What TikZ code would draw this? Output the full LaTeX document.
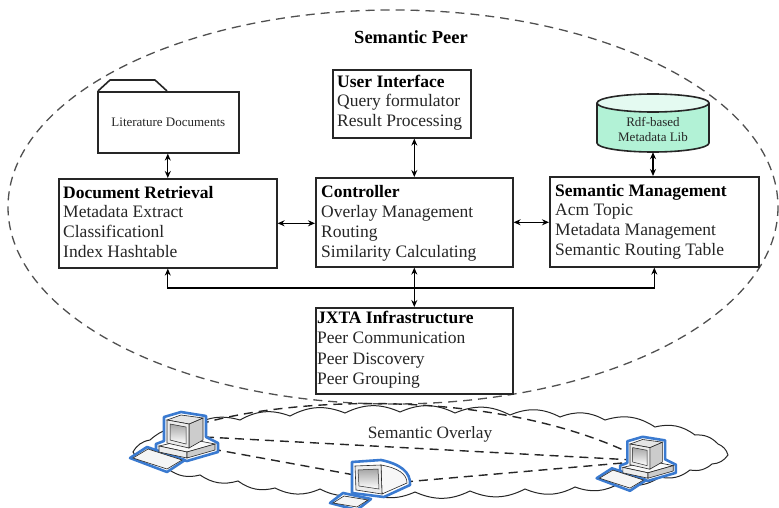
\documentclass[tikz,border=0pt]{standalone}
\usepackage{fontspec}
\setmainfont{Liberation Serif}
\usetikzlibrary{arrows.meta}
\definecolor{pcblue}{HTML}{3A7AD0}
\definecolor{mint}{HTML}{B2F2D6}
\definecolor{ink}{HTML}{262626}
\definecolor{dashgray}{HTML}{505050}

\tikzset{
  pics/desk/.style={code={
    % blue halo around monitor and case
    \draw[pcblue, line width=2.6pt, line join=round, fill=white]
      (-3,-3) -- (14,-8) -- (39,-4) -- (39,17) -- (51,23) -- (51,32) -- (20,41)
      -- (-11,34) -- (-11,24) -- (-3,21) -- cycle;
    % blue halo around keyboard
    \draw[pcblue, line width=2.6pt, line join=round, fill=white]
      (-37,38) -- (-20,27) -- (18,40) -- (0,52) -- cycle;
    % keyboard
    \draw[ink, line width=0.6pt, fill=gray!8] (-34,38) -- (-19,29) -- (15,40) -- (0,49) -- cycle;
    % desktop case
    \draw[ink, line width=0.6pt, fill=gray!5] (-8,26) -- (22,19) -- (48,24) -- (20,32) -- cycle;
    \draw[ink, line width=0.6pt, fill=gray!15] (-8,26) -- (20,32) -- (20,38) -- (-8,32) -- cycle;
    \draw[ink, line width=0.6pt, fill=gray!40] (20,32) -- (48,24) -- (48,30) -- (20,38) -- cycle;
    % monitor
    \draw[ink, line width=0.6pt, fill=gray!40] (22,4) -- (36,-2) -- (36,20) -- (22,28) -- cycle;
    \draw[ink, line width=0.6pt, fill=gray!20] (0,0) -- (14,-5) -- (36,-2) -- (22,4) -- cycle;
    \draw[ink, line width=0.6pt, fill=gray!15] (0,0) -- (22,4) -- (22,28) -- (0,23) -- cycle;
    \draw[ink, line width=0.5pt, top color=gray!70, bottom color=white] (3,4) -- (19,7) -- (19,24) -- (3,20) -- cycle;
  }}
}

\begin{document}
\begin{tikzpicture}[x=1pt, y=-1pt,
  box/.style={draw=ink, line width=1.6pt, fill=white, inner sep=0pt, anchor=north west},
  ln/.style={anchor=base west, inner sep=0pt, font=\fontsize{17.5}{19.7}\selectfont, text=ink},
  hd/.style={anchor=base west, inner sep=0pt, font=\fontsize{17.5}{19.7}\selectfont\bfseries, text=black},
  tip/.style={Stealth[length=7pt, width=6pt]},
  dbl/.style={{Stealth[length=7pt, width=6pt]}-{Stealth[length=7pt, width=6pt]}, line width=1.2pt, draw=black},
  peerline/.style={dash pattern=on 9pt off 6pt, line width=1.3pt, draw=dashgray},
  link/.style={dash pattern=on 9pt off 6pt, line width=1.4pt, draw=ink},
  small/.style={font=\fontsize{13}{15}\selectfont, text=ink, inner sep=0pt}]

\useasboundingbox (0,0) rectangle (779,508);

% ---------- semantic peer boundary ----------
\draw[peerline] (393,207) ellipse [x radius=385, y radius=197];
\node[anchor=base, inner sep=0pt, font=\fontsize{18.5}{20}\selectfont\bfseries] (peer) at (411,44) {Semantic Peer};

% ---------- overlay cloud ----------
\draw[ink, line width=1pt, fill=white, bend left=25]
  (150,440) to (190,428) to (240,420) to (290,416) to (345,413) to (400,412)
  to (455,413) to (510,415) to (560,417) to (605,420) to (655,427) to (695,435)
  to (718,444) to (728,455) to (712,464) to (690,470) to (660,477) to (620,483)
  to (575,487) to (525,489) to (470,491) to (415,492) to (365,491) to (320,489)
  to (275,488) to (238,481) to (200,475) to (168,469) to (145,461) to (133,452)
  to (150,440);
\node[anchor=base, inner sep=0pt, font=\fontsize{17.3}{19}\selectfont, text=ink] (overlay) at (430,438) {Semantic Overlay};

% peer-to-peer links
\coordinate (L1) at (200,424);
\coordinate (L2) at (205,437);
\coordinate (L3) at (212,449);
\coordinate (R1) at (634,455);
\coordinate (R2) at (634,460);
\coordinate (R3) at (634,462);
\coordinate (M1) at (360,476);
\coordinate (M2) at (404,482);
\draw[link] (L1) .. controls (300,395) and (500,390) .. (R1);
\draw[link] (L2) -- (R2);
\draw[link] (L3) -- (M1);
\draw[link] (M2) -- (R3);

% ---------- peers ----------
\pic (pcL) at (167,420) {desk};
\pic[scale=0.9] (pcR) at (630,444) {desk};

% middle peer (rounded monitor)
\draw[pcblue, line width=2.6pt, line join=round, fill=white]
  (352,462) -- (381,460) .. controls (400,464) and (411,472) .. (410,485) -- (384,497) -- (352,493) -- cycle;
\draw[pcblue, line width=2.6pt, line join=round, fill=white]
  (330,503) -- (343,493) -- (371,499) -- (357,510) -- cycle;
\draw[ink, line width=0.6pt, fill=gray!8] (333,503) -- (344,496) -- (368,500) -- (357,507) -- cycle;
\draw[ink, line width=0.6pt, fill=gray!6] (381,465) .. controls (398,468) and (407,474) .. (407,483) -- (382,494) -- cycle;
\draw[ink, line width=0.6pt, fill=gray!15] (355,466) -- (381,465) -- (382,494) -- (356,490) -- cycle;
\draw[ink, line width=0.5pt, top color=gray!70, bottom color=white] (358,470) -- (378,469) -- (379,489) -- (359,486) -- cycle;

% ---------- component boxes ----------
\node[box, minimum width=138pt, minimum height=68pt] (ui) at (332,69) {};
\node[hd] (ui1) at (337,88) {User Interface};
\node[ln] (ui2) at (337,107) {Query formulator};
\node[ln] (ui3) at (337,127) {Result Processing};

\node[box, minimum width=218pt, minimum height=89pt] (dr) at (58,178) {};
\node[hd] (dr1) at (63,198) {Document Retrieval};
\node[ln] (dr2) at (63,217) {Metadata Extract};
\node[ln] (dr3) at (63,237) {Classificationl};
\node[ln] (dr4) at (63,257) {Index Hashtable};

\node[box, minimum width=197pt, minimum height=89pt] (ctl) at (315,177) {};
\node[hd] (ctl1) at (321,197) {Controller};
\node[ln] (ctl2) at (321,217) {Overlay Management};
\node[ln] (ctl3) at (321,237) {Routing};
\node[ln] (ctl4) at (321,257) {Similarity Calculating};

\node[box, minimum width=209pt, minimum height=90pt] (sm) at (549,176) {};
\node[hd] (sm1) at (555,196) {Semantic Management};
\node[ln] (sm2) at (555,215) {Acm Topic};
\node[ln] (sm3) at (555,235) {Metadata Management};
\node[ln] (sm4) at (555,255) {Semantic Routing Table};

\node[box, minimum width=197pt, minimum height=86pt] (jx) at (315,307) {};
\node[hd] (jx1) at (317,323) {JXTA Infrastructure};
\node[ln] (jx2) at (317,343) {Peer Communication};
\node[ln] (jx3) at (317,364) {Peer Discovery};
\node[ln] (jx4) at (317,384) {Peer Grouping};

% ---------- literature documents folder ----------
\draw[ink, line width=1.6pt, fill=white, line join=round] (98,91) -- (110,80) -- (155,80) -- (167,91);
\node[box, minimum width=141pt, minimum height=61pt] (lit) at (97,91) {};
\node[small] (littext) at (lit.center) {Literature Documents};

% ---------- rdf metadata library ----------
\node[inner sep=0pt, minimum width=112pt, minimum height=58pt] (rdf) at (653,123) {};
\fill[mint] (597,103) -- (597,143) arc[start angle=180, end angle=0, x radius=56, y radius=9]
  -- (709,103) arc[start angle=0, end angle=-180, x radius=56, y radius=9] -- cycle;
\draw[ink, line width=1.6pt, fill=mint!35!white] (653,103) ellipse [x radius=56, y radius=9];
\draw[ink, line width=1.6pt] (597,103) -- (597,143) arc[start angle=180, end angle=0, x radius=56, y radius=9] -- (709,103);
\node[small, align=center] (rdftext) at (653,129) {Rdf-based\\Metadata Lib};

% ---------- connectors ----------
\draw[dbl] (lit.south -| dr.north) -- (dr.north);
\draw[dbl] (rdf.south) -- (rdf.south |- sm.north);
\draw[dbl] (ui.south -| ctl.north) -- (ctl.north);
\draw[dbl] (dr.east) -- (dr.east -| ctl.west);
\draw[dbl] (ctl.east) -- (ctl.east -| sm.west);
\draw[dbl] (ctl.south) -- (jx.north);
\coordinate (bus) at (414,288);
\draw[dbl] (dr.south) -- (dr.south |- bus) -- (sm.south |- bus) -- (sm.south);

\end{tikzpicture}
\end{document}
